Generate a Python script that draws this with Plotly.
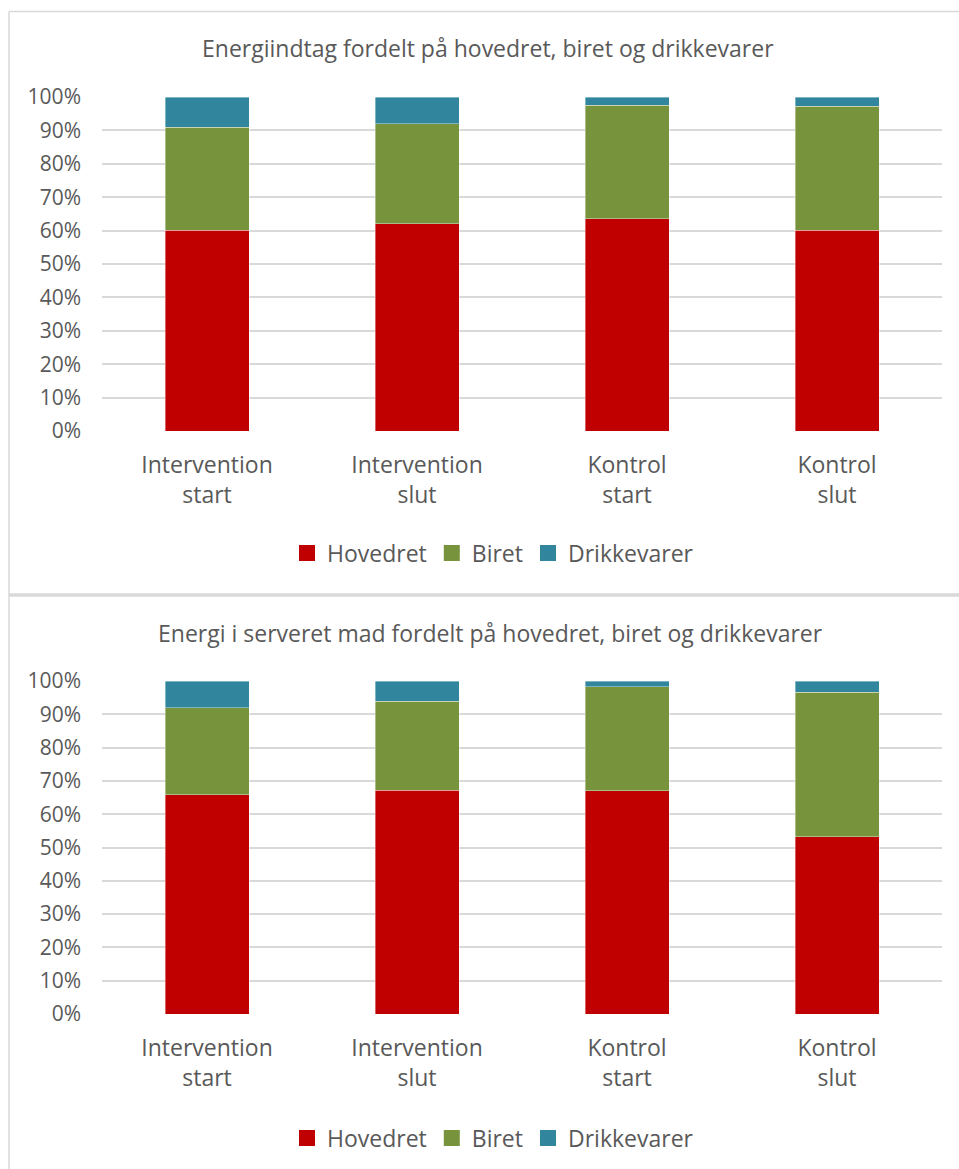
import plotly.graph_objects as go

categories = ["Intervention<br>start", "Intervention<br>slut", "Kontrol<br>start", "Kontrol<br>slut"]
series_names = ["Hovedret", "Biret", "Drikkevarer"]
colors = ["#C00000", "#77933C", "#31859C"]

# Chart 1: Energiindtag (shares, %)
intake_hovedret = [60.1, 62.1, 63.6, 60.1]
intake_biret = [30.8, 29.9, 33.9, 37.2]
intake_drikke = [9.1, 8.0, 2.5, 2.7]

# Chart 2: Energi i serveret mad (shares, %)
served_hovedret = [65.8, 67.2, 67.1, 53.2]
served_biret = [26.2, 26.7, 31.1, 43.4]
served_drikke = [8.0, 6.1, 1.8, 3.4]

title1 = "Energiindtag fordelt på hovedret, biret og drikkevarer"
title2 = "Energi i serveret mad fordelt på hovedret, biret og drikkevarer"

W, H = 959, 1169
FONT = "Open Sans"
TXT = "#595959"
GRID = "#D9D9D9"

def px(x):
    return x / W

def py(y):
    return 1 - y / H

fig = go.Figure()

datasets = [
    (intake_hovedret, intake_biret, intake_drikke, "x", "y", "legend"),
    (served_hovedret, served_biret, served_drikke, "x2", "y2", "legend2"),
]
for vals_h, vals_b, vals_d, xa, ya, lg in datasets:
    for name, vals, col in zip(series_names, [vals_h, vals_b, vals_d], colors):
        fig.add_trace(go.Bar(
            x=categories, y=[v / 100 for v in vals], name=name,
            marker=dict(color=col, line=dict(color="rgba(255,255,255,0.5)", width=0.75)),
            xaxis=xa, yaxis=ya, showlegend=False,
        ))
    for name, col in zip(series_names, colors):
        fig.add_trace(go.Scatter(
            x=[None], y=[None], mode="markers", name=name,
            marker=dict(color=col, symbol="square", size=16),
            xaxis=xa, yaxis=ya, legend=lg, showlegend=True,
        ))

xdom = [px(102), px(942)]
axis_common_y = dict(
    range=[0, 1], dtick=0.1, tick0=0, tickformat=".0%",
    showgrid=True, gridcolor=GRID, gridwidth=1.5, zeroline=False,
    showline=False, ticks="", ticklabelstandoff=20, automargin=False,
    tickfont=dict(family=FONT, size=21, color=TXT),
)
axis_common_x = dict(
    showgrid=False, zeroline=False, showline=False, ticks="",
    ticklabelstandoff=18, automargin=False,
    tickfont=dict(family=FONT, size=23, color=TXT),
)
legend_common = dict(
    orientation="h", xanchor="center", yanchor="middle", traceorder="normal",
    font=dict(family=FONT, size=23, color=TXT), itemsizing="trace",
    itemwidth=30, tracegroupgap=0, bgcolor="rgba(0,0,0,0)",
)

fig.update_layout(
    width=W, height=H,
    margin=dict(l=0, r=0, t=0, b=0, pad=0, autoexpand=False),
    paper_bgcolor="white", plot_bgcolor="white",
    barmode="stack", bargap=0.6,
    xaxis=dict(domain=xdom, anchor="y", **axis_common_x),
    yaxis=dict(domain=[py(431), py(97)], anchor="x", **axis_common_y),
    xaxis2=dict(domain=xdom, anchor="y2", **axis_common_x),
    yaxis2=dict(domain=[py(1014), py(681)], anchor="x2", **axis_common_y),
    legend=dict(x=px(493), y=py(553), **legend_common),
    legend2=dict(x=px(493), y=py(1138), **legend_common),
    annotations=[
        dict(text=title1, x=px(488), y=py(48), xref="paper", yref="paper",
             xanchor="center", yanchor="middle", showarrow=False,
             font=dict(family=FONT, size=23, color=TXT)),
        dict(text=title2, x=px(490), y=py(633), xref="paper", yref="paper",
             xanchor="center", yanchor="middle", showarrow=False,
             font=dict(family=FONT, size=23, color=TXT)),
    ],
    shapes=[
        dict(type="line", xref="paper", yref="paper", x0=px(9), x1=1, y0=py(11.5), y1=py(11.5),
             line=dict(color=GRID, width=1.5)),
        dict(type="line", xref="paper", yref="paper", x0=px(9), x1=px(9), y0=py(11.5), y1=0,
             line=dict(color=GRID, width=1.5)),
        dict(type="line", xref="paper", yref="paper", x0=px(9), x1=1, y0=py(595), y1=py(595),
             line=dict(color=GRID, width=3.5)),
    ],
)

fig.write_html("out.html")
